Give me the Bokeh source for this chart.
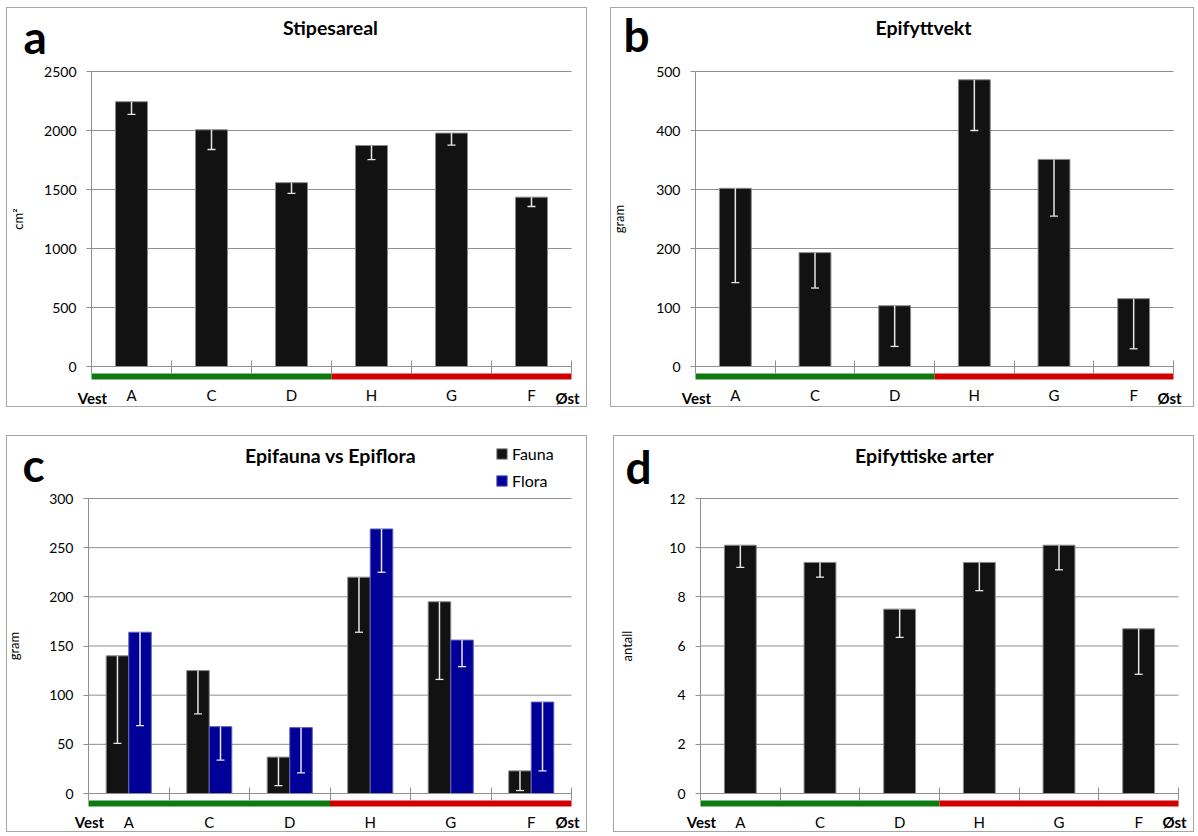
from bokeh.plotting import figure
from bokeh.models import (Range1d, FixedTicker, Whisker, TeeHead, Label,
                          ColumnDataSource, Legend, LegendItem, Spacer)
from bokeh.layouts import row, column
from bokeh.transform import dodge
from bokeh.embed import file_html
from bokeh.resources import INLINE

# ---------------- data ----------------
sites = ["A", "C", "D", "H", "G", "F"]

stipe_mean = [2244, 2006, 1558, 1873, 1978, 1435]
stipe_lower = [2137, 1839, 1467, 1754, 1876, 1356]
stipe_ticks = [0, 500, 1000, 1500, 2000, 2500]

epi_mean = [302, 193, 103, 486, 351, 115]
epi_lower = [142, 133, 34, 400, 255, 30]
epi_ticks = [0, 100, 200, 300, 400, 500]

fauna_mean = [140, 125, 37, 220, 195, 23]
fauna_lower = [51, 81, 8, 164, 116, 3]
flora_mean = [164, 68, 67, 269, 156, 93]
flora_lower = [69, 34, 21, 225, 129, 23]
ff_ticks = [0, 50, 100, 150, 200, 250, 300]

arter_mean = [10.1, 9.4, 7.5, 9.4, 10.1, 6.7]
arter_lower = [9.2, 8.8, 6.35, 8.25, 9.1, 4.85]
arter_ticks = [0, 2, 4, 6, 8, 10, 12]

n_sites = len(sites)
site_x = [i + 1 for i in range(n_sites)]            # category centres
bounds_x = [i + 0.5 for i in range(n_sites + 1)]    # category boundaries
west_span = (bounds_x[0], bounds_x[3])
east_span = (bounds_x[3], bounds_x[-1])

FONT = "Lato"
GRID = "#8f8f8f"
BAR = "#121212"
BLUE = "#000099"
ERR = "#e6e6e6"
GREEN = "#0d7a10"
RED = "#d00000"


def make_panel(W, H, FL, FR, T, Z, ymax, yticks, ylabel, ylab_standoff,
               letter, letter_x, letter_base, title, title_cx, end_off):
    """FL/FR: pixel x of first/last category boundary, T: pixel y of top tick,
    Z: pixel y of zero (all canvas-relative)."""
    cat_px = (FR - FL) / n_sites
    ppu = (Z - T) / ymax

    def xd(px):
        return bounds_x[0] + (px - FL) / cat_px

    def yd(py):
        return (Z - py) / ppu

    p = figure(width=W, height=H, x_range=Range1d(xd(0), xd(W)),
               y_range=Range1d(yd(H), yd(0)), output_backend="svg",
               toolbar_location=None, min_border=0,
               styles={"border": "1px solid #a6a6a6"})
    p.title.visible = False
    p.outline_line_color = None
    p.background_fill_color = "white"
    p.border_fill_color = "white"
    p.xgrid.visible = False
    p.ygrid.visible = False

    # horizontal gridlines between the first and last boundary
    p.segment(x0=[bounds_x[0]] * len(yticks), x1=[bounds_x[-1]] * len(yticks),
              y0=yticks, y1=yticks, line_color=GRID, line_width=1)

    ya = p.yaxis[0]
    ya.fixed_location = bounds_x[0]
    ya.ticker = FixedTicker(ticks=yticks)
    ya.bounds = (0, ymax)
    ya.axis_line_color = GRID
    ya.major_tick_line_color = GRID
    ya.major_tick_out = 5
    ya.major_tick_in = 0
    ya.minor_tick_line_color = None
    ya.major_label_standoff = 10
    ya.major_label_text_font = FONT
    ya.major_label_text_font_size = "14px"
    ya.major_label_text_color = "black"
    ya.axis_label = ylabel
    ya.axis_label_text_font = FONT
    ya.axis_label_text_font_size = "13px"
    ya.axis_label_text_font_style = "normal"
    ya.axis_label_text_color = "black"
    ya.axis_label_standoff = ylab_standoff

    xa = p.xaxis[0]
    xa.fixed_location = 0
    xa.ticker = FixedTicker(ticks=site_x, minor_ticks=bounds_x)
    xa.major_label_overrides = {x: s for x, s in zip(site_x, sites)}
    xa.bounds = (bounds_x[0], bounds_x[-1])
    xa.axis_line_color = GRID
    xa.major_tick_line_color = None
    xa.major_tick_out = 0
    xa.major_tick_in = 0
    xa.minor_tick_line_color = GRID
    xa.minor_tick_in = 6
    xa.minor_tick_out = 7
    xa.major_label_standoff = 12
    xa.major_label_text_font = FONT
    xa.major_label_text_font_size = "15px"
    xa.major_label_text_color = "black"

    # west / east bars under the axis
    yc = yd(Z + 10)
    p.segment(x0=[west_span[0]], x1=[west_span[1]], y0=[yc], y1=[yc],
              line_color=GREEN, line_width=6, line_cap="butt")
    p.segment(x0=[east_span[0]], x1=[east_span[1]], y0=[yc], y1=[yc],
              line_color=RED, line_width=6, line_cap="butt")

    lab = dict(text_baseline="alphabetic", text_font=FONT, text_color="black",
               text_font_style="bold")
    p.add_layout(Label(x=xd(FL + 1), y=yd(Z + end_off), text="Vest", text_align="center",
                       text_font_size="15px", **lab))
    p.add_layout(Label(x=xd(FR - 4), y=yd(Z + end_off), text="Øst", text_align="center",
                       text_font_size="15px", **lab))
    p.add_layout(Label(x=xd(letter_x), y=yd(letter_base), text=letter, text_align="left",
                       text_font_size="46px", **lab))
    p.add_layout(Label(x=xd(title_cx), y=yd(19), text=title, text_align="center",
                       text_font_size="19.5px", **lab))
    return p


def add_bars(p, values, lower, color, width, offset, line_color):
    src = ColumnDataSource(dict(x=site_x, mean=values, lower=lower))
    xspec = dodge("x", offset)
    r = p.vbar(x=xspec, top="mean", bottom=0, width=width, source=src,
               fill_color=color, line_color=line_color, line_width=1)
    w = Whisker(source=src, base=xspec, upper="mean", lower="lower",
                upper_head=None,
                lower_head=TeeHead(size=8, line_color=ERR, line_width=1.3),
                line_color=ERR, line_width=1.5, dimension="height", level="overlay")
    p.add_layout(w)
    return r


pa = make_panel(581, 400, 84, 564, 63, 358, 2500, stipe_ticks, "cm²", 15,
                "a", 16, 28, "Stipesareal", 323, 31)
add_bars(pa, stipe_mean, stipe_lower, BAR, 0.4, 0.0, "#8a8a8a")

pb = make_panel(584, 400, 84, 562, 63, 358, 500, epi_ticks, "gram", 26,
                "b", 12, 26, "Epifyttvekt", 312, 31)
add_bars(pb, epi_mean, epi_lower, BAR, 0.4, 0.0, "#8a8a8a")

pc = make_panel(581, 397, 81, 564, 62, 357, 300, ff_ticks, "gram", 24,
                "c", 15, 28, "Epifauna vs Epiflora", 323, 28)
r_fa = add_bars(pc, fauna_mean, fauna_lower, BAR, 0.28, -0.14, "#8a8a8a")
r_fl = add_bars(pc, flora_mean, flora_lower, BLUE, 0.28, 0.14, "#6060b8")
leg = Legend(items=[LegendItem(label="Fauna", renderers=[r_fa]),
                    LegendItem(label="Flora", renderers=[r_fl])],
             location=(488, 397 - 54.5), orientation="vertical",
             border_line_color=None, background_fill_alpha=0.0,
             padding=0, margin=0, spacing=7, label_height=20,
             glyph_height=13, glyph_width=13, label_standoff=4,
             label_text_font=FONT, label_text_font_size="16px",
             label_text_color="black")
pc.add_layout(leg)

pd_ = make_panel(581, 397, 86, 564, 62, 357, 12, arter_ticks, "antall", 31,
                 "d", 11, 30, "Epifyttiske arter", 310, 28)
add_bars(pd_, arter_mean, arter_lower, BAR, 0.4, 0.0, "#8a8a8a")

layout = column(
    Spacer(height=7),
    row(Spacer(width=6), pa, Spacer(width=23), pb),
    Spacer(height=28),
    row(Spacer(width=6), pc, Spacer(width=26), pd_),
)

open("out.html", "w").write(file_html(layout, INLINE))
